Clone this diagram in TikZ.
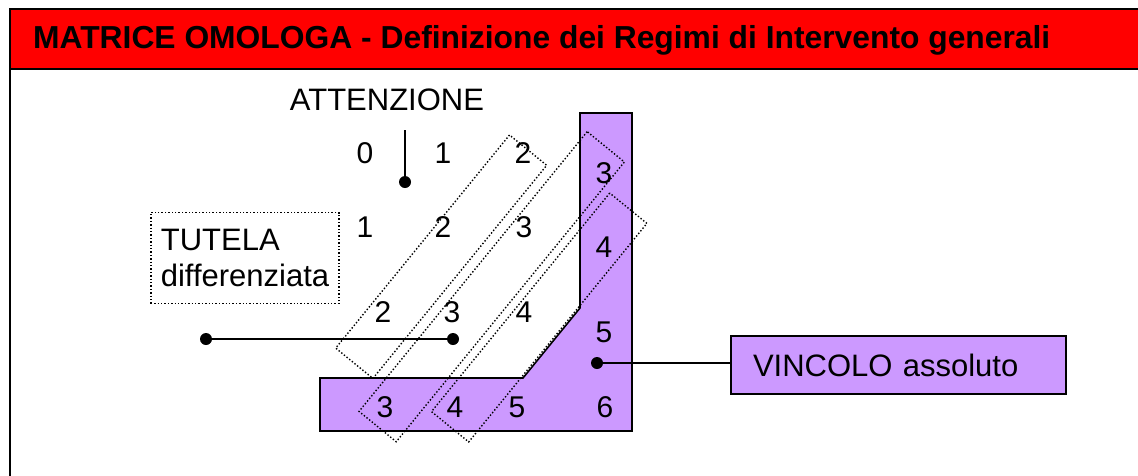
\documentclass[tikz,border=0pt]{standalone}
\usepackage{fontspec}
\setmainfont{Liberation Sans}
\usepackage{xcolor}
\usepackage{tikz}
\usetikzlibrary{positioning}
\definecolor{titlered}{RGB}{255,0,0}
\definecolor{lilac}{RGB}{204,153,255}

\begin{document}
\begin{tikzpicture}[
  x=1pt,y=-1pt,
  num/.style={inner sep=0pt,font=\fontsize{30}{36}\selectfont},
  lbl/.style={inner sep=0pt,font=\fontsize{31}{36}\selectfont},
  band/.style={draw,dotted,line width=1.4pt,minimum height=48pt,
               inner sep=0pt,rotate=50.8},
  dot/.style={circle,fill,inner sep=0pt,minimum size=12pt},
  link/.style={line width=1.6pt},
  tbox/.style={draw,dotted,line width=1.4pt,minimum width=188pt,
               minimum height=91pt,inner xsep=10pt,align=left,
               font=\fontsize{31}{36}\selectfont},
  vbox/.style={draw,line width=1.6pt,fill=lilac,minimum height=58pt,
               text width=291pt,inner xsep=22pt,align=left,
               font=\fontsize{31}{36}\selectfont}
]
\useasboundingbox (0,0) rectangle (1138,475);

\draw[line width=2pt,fill=titlered] (10,9) rectangle (1140,69);
\node[anchor=base west,inner sep=0pt,font=\bfseries\fontsize{31.8}{38}\selectfont]
     (title) at (33,48) {MATRICE OMOLOGA - Definizione dei Regimi di Intervento generali};
\draw[line width=2pt] (10,69) -- (10,476);

\draw[line width=1.6pt,fill=lilac]
     (580,113) -- (632,113) -- (632,431) -- (320,431) -- (320,378)
     -- (523,378) -- (580,308) -- cycle;

\node[band,minimum width=275pt] (bandA) at (441.2,256.7) {};
\node[band,minimum width=361pt] (bandB) at (491.7,286.7) {};
\node[band,minimum width=282pt] (bandC) at (539.2,317.5) {};

\node[num] (r1c1) at (365,153) {0};
\node[num] (r1c2) at (443,153) {1};
\node[num] (r1c3) at (523,153) {2};
\node[num] (r1c4) at (604,173) {3};
\node[num] (r2c1) at (365,227) {1};
\node[num] (r2c2) at (443,227) {2};
\node[num] (r2c3) at (524,227) {3};
\node[num] (r2c4) at (604,247) {4};
\node[num] (r3c1) at (383,312) {2};
\node[num] (r3c2) at (452,312) {3};
\node[num] (r3c3) at (524,312) {4};
\node[num] (r3c4) at (604,332) {5};
\node[num] (r4c1) at (385,407) {3};
\node[num] (r4c2) at (455,407) {4};
\node[num] (r4c3) at (517,407) {5};
\node[num] (r4c4) at (605,407) {6};

\node[lbl] (attenzione) at (387,100) {ATTENZIONE};
\coordinate (attTop) at (405,130);
\node[dot] (attDot) at (405,182) {};
\draw[link] (attTop) -- (attDot.center);

\node[tbox] (tutela) at (245,258) {TUTELA\\differenziata};
\node[dot] (tutL) at (206,339) {};
\node[dot] (tutR) at (453,339) {};
\draw[link] (tutL.center) -- (tutR.center);

\node[vbox] (vincolo) at (898.5,365) {VINCOLO assoluto};
\node[dot] (vinDot) at (597,363) {};
\draw[link] (vinDot.center) -- (vinDot.center -| vincolo.west);
\end{tikzpicture}
\end{document}
